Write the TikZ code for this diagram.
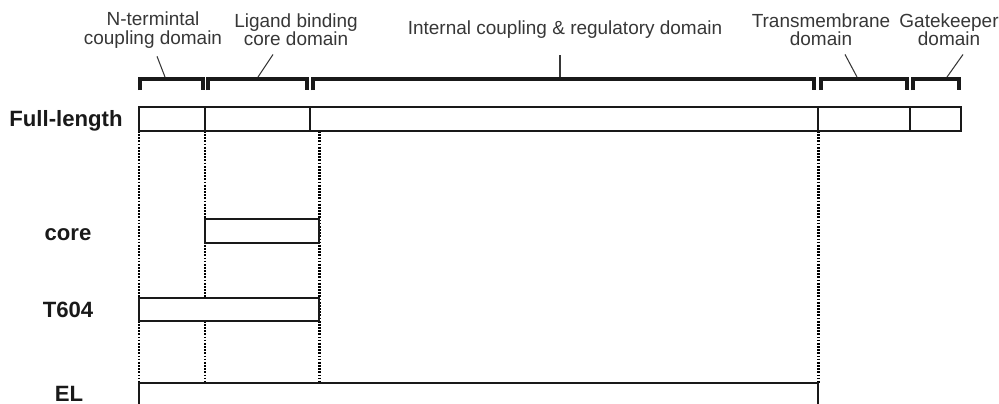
\documentclass[tikz,border=0pt]{standalone}
\usepackage{fontspec}
\setmainfont{Liberation Sans}
\usepackage{tikz}
\usetikzlibrary{positioning}
\definecolor{dmInk}{RGB}{25,25,25}
\definecolor{dmText}{RGB}{55,55,55}

\begin{document}
\begin{tikzpicture}[x=0.02cm, y=-0.02cm,
    domlabel/.style={dmText, font=\fontsize{10.8}{10.4}\selectfont, align=center, inner sep=0pt},
    rowlabel/.style={dmInk, font=\fontsize{12.6}{14}\selectfont\bfseries, anchor=base, inner sep=0pt},
    bracket/.style={dmInk, line width=2.2pt},
    leader/.style={dmText, line width=0.6pt},
    bar/.style={dmInk, line width=1.2pt},
    guide/.style={black, line width=1.7pt, dash pattern=on 1pt off 0.8pt}]
  \clip (0,0) rectangle (999,403);

  % Domain labels
  \node[domlabel] (lblNterm) at (153,30) {N-termintal\\coupling domain};
  \node[domlabel] (lblLigand) at (296,30) {Ligand binding\\core domain};
  \node[domlabel] (lblInternal) at (565,30) {Internal coupling \& regulatory domain};
  \node[domlabel] (lblTrans) at (821,30) {Transmembrane\\domain};
  \node[domlabel] (lblGate) at (949,30) {Gatekeeper\\domain};

  % Domain brackets
  \foreach \a/\b in {140/203, 208/307, 313/814, 821/907, 913/959}
    \draw[bracket] (\a,90) -- (\a,79) -- (\b,79) -- (\b,90);

  \coordinate (tipNterm) at (165,77);
  \coordinate (tipLigand) at (258,77);
  \coordinate (tipInternal) at (560,77);
  \coordinate (tipTrans) at (857,77);
  \coordinate (tipGate) at (947,77);
  \draw[leader] ([shift={(4,8)}]lblNterm.south) -- (tipNterm);
  \draw[leader] ([shift={(-23,8)}]lblLigand.south) -- (tipLigand);
  \draw[leader] ([shift={(-5,16)}]lblInternal.south) -- (tipInternal);
  \draw[leader] ([shift={(24,8)}]lblTrans.south) -- (tipTrans);
  \draw[leader] ([shift={(14,8)}]lblGate.south) -- (tipGate);

  % Guide lines
  \foreach \x in {139,205,319,818}
    \draw[guide] (\x,131) -- (\x,383);

  % Full-length protein
  \draw[bar] (139,107) rectangle (961,131);
  \foreach \x in {205,310,818,910}
    \draw[bar] (\x,107) -- (\x,131);

  % Constructs
  \draw[bar, fill=white] (205,219) rectangle (319,243);
  \draw[bar, fill=white] (139,298) rectangle (319,321);
  \draw[bar, fill=white] (139,383) rectangle (818,440);

  % Row labels
  \node[rowlabel] (rowFull) at (66,126) {Full-length};
  \node[rowlabel] (rowCore) at (68,240) {core};
  \node[rowlabel] (rowT604) at (68,317) {T604};
  \node[rowlabel] (rowEL) at (69,401) {EL};
\end{tikzpicture}
\end{document}
